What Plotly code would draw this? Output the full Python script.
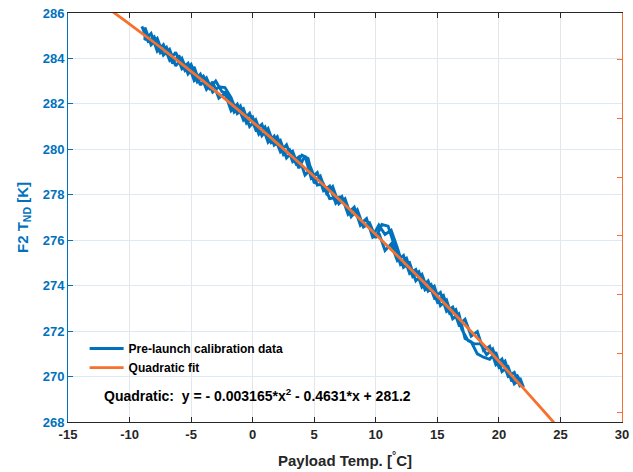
import plotly.graph_objects as go

# ---- data ----
pass_a_x = [-9.0, -8.5, -8.0, -7.5, -7.0, -6.5, -6.0, -5.5, -5.0, -4.5, -4.0, -3.5, -3.0, -2.5, -2.0, -1.5,
            -1.0, -0.5, 0.0, 0.5, 1.0, 1.5, 2.0, 2.5, 3.0, 3.5, 4.0, 4.5, 5.0, 5.5, 6.0, 6.5, 7.0, 7.5,
            8.0, 8.5, 9.0, 9.5, 10.0, 10.5, 11.0, 11.5, 12.0, 12.5, 13.0, 13.5, 14.0, 14.5, 15.0, 15.5,
            16.0, 16.5, 17.0, 17.5, 18.0, 18.5, 19.0, 19.5, 20.0, 20.5, 21.0, 21.5, 22.0]
pass_a_y = [285.41, 284.76, 284.95, 284.25, 284.49, 283.78, 284.14, 283.47, 283.74, 282.97, 283.22, 282.68,
            283.01, 282.54, 282.46, 281.64, 281.91, 281.15, 281.42, 280.67, 280.98, 280.30, 280.56, 279.77,
            279.98, 279.39, 279.75, 279.60, 278.51, 278.81, 278.06, 278.36, 277.60, 277.83, 277.04, 277.34,
            276.58, 276.76, 276.10, 276.69, 276.62, 275.76, 274.94, 275.20, 274.40, 274.62, 273.82, 274.04,
            273.29, 273.56, 272.78, 272.95, 272.06, 271.58, 271.44, 271.45, 270.96, 271.22, 270.42, 270.68,
            269.86, 270.03, 269.53]

pass_b_x = [21.75, 21.25, 20.75, 20.25, 19.75, 19.25, 18.75, 18.25, 17.75, 17.25, 16.75, 16.25, 15.75, 15.25,
            14.75, 14.25, 13.75, 13.25, 12.75, 12.25, 11.75, 11.25, 10.75, 10.25, 9.75, 9.25, 8.75, 8.25,
            7.75, 7.25, 6.75, 6.25, 5.75, 5.25, 4.75, 4.25, 3.75, 3.25, 2.75, 2.25, 1.75, 1.25, 0.75, 0.25,
            -0.25, -0.75, -1.25, -1.75, -2.25, -2.75, -3.25, -3.75, -4.25, -4.75, -5.25, -5.75, -6.25,
            -6.75, -7.25, -7.75, -8.25, -8.75]
pass_b_y = [269.88, 269.68, 270.43, 270.22, 271.07, 270.76, 270.85, 271.00, 271.53, 271.67, 272.76, 272.54,
            273.37, 273.12, 273.98, 273.76, 274.49, 274.21, 275.00, 274.80, 275.67, 276.44, 276.25, 276.67,
            276.18, 276.93, 276.66, 277.46, 277.20, 277.92, 277.63, 278.38, 278.18, 278.98, 278.73, 279.72,
            279.17, 279.91, 279.62, 280.39, 280.18, 280.91, 280.60, 281.30, 281.01, 281.79, 281.57, 282.28,
            282.72, 282.75, 282.52, 283.14, 282.83, 283.63, 283.32, 284.00, 283.67, 284.40, 284.14, 284.88,
            284.60, 285.36]

pass_c_x = [-8.75, -8.25, -7.75, -7.25, -6.75, -6.25, -5.75, -5.25, -4.75, -4.25, -3.75, -3.25, -2.75, -2.25,
            -1.75, -1.25, -0.75, -0.25, 0.25, 0.75, 1.25, 1.75, 2.25, 2.75, 3.25, 3.75, 4.25, 4.75, 5.25,
            5.75, 6.25, 6.75, 7.25, 7.75, 8.25, 8.75, 9.25, 9.75, 10.25, 10.75, 11.25, 11.75, 12.25, 12.75,
            13.25, 13.75, 14.25, 14.75, 15.25, 15.75, 16.25, 16.75, 17.25, 17.75, 18.25, 18.75, 19.25,
            19.75, 20.25, 20.75, 21.25, 21.75]
pass_c_y = [284.81, 285.10, 284.32, 284.61, 283.93, 284.27, 283.55, 283.79, 283.03, 283.31, 282.64, 282.97,
            282.25, 282.47, 281.70, 281.99, 281.29, 281.59, 280.86, 281.10, 280.31, 280.58, 279.89, 280.20,
            279.46, 279.67, 278.87, 279.15, 278.43, 278.48, 277.83, 277.88, 277.92, 277.14, 277.41, 276.71,
            276.95, 276.13, 276.32, 275.55, 275.84, 275.10, 275.33, 274.53, 274.71, 273.94, 274.21, 273.48,
            273.70, 272.87, 273.06, 272.28, 272.52, 271.78, 271.98, 271.15, 271.33, 270.52, 270.77, 270.01,
            270.18, 269.53]

# quadratic fit coefficients (as printed on the chart)
fit_a, fit_b, fit_c = -0.003165, -0.4631, 281.2
fit_x = [-12, -10, -8, -6, -4, -2, 0, 2, 4, 6, 8, 10, 12, 14, 16, 18, 20, 22, 24, 26]
fit_y = [fit_a * x * x + fit_b * x + fit_c for x in fit_x]

x_ticks = [-15, -10, -5, 0, 5, 10, 15, 20, 25, 30]
x_tick_text = ["-15", "-10", "-5", "0", "5", "10", "15", "20", "25", "30"]
y_ticks = [268, 270, 272, 274, 276, 278, 280, 282, 284, 286]
right_ticks = [0, 1, 2, 3, 4, 5, 6]

BLUE = "#0072BD"
ORANGE = "#F7702E"
DARK = "#262626"
FONT = "Liberation Sans, Arial, sans-serif"

data_x = pass_a_x + pass_b_x + pass_c_x
data_y = pass_a_y + pass_b_y + pass_c_y

fig = go.Figure()
fig.add_trace(go.Scatter(x=data_x, y=data_y, mode="lines", name="Pre-launch calibration data",
                         line=dict(color=BLUE, width=2.9)))
fig.add_trace(go.Scatter(x=fit_x, y=fit_y, mode="lines", name="Quadratic fit",
                         line=dict(color=ORANGE, width=2.8, shape="spline")))
fig.add_trace(go.Scatter(x=[None], y=[None], yaxis="y2", showlegend=False, hoverinfo="skip"))

fig.update_layout(
    width=633, height=472,
    margin=dict(l=68, r=11, t=13, b=50, autoexpand=False),
    paper_bgcolor="white", plot_bgcolor="white",
    font=dict(family=FONT, size=13, color=DARK, weight="bold"),
    showlegend=True,
    legend=dict(x=0.03, y=0.215, xanchor="left", yanchor="top", bgcolor="rgba(0,0,0,0)",
                font=dict(family=FONT, size=12, color="black", weight="bold"),
                tracegroupgap=0, itemwidth=34),
    xaxis=dict(range=[-15, 30], tickvals=x_ticks, ticktext=x_tick_text, ticks="inside", ticklen=5,
               tickcolor=DARK, automargin=False,
               showline=True, linecolor=DARK, linewidth=1, mirror="ticks",
               showgrid=True, gridcolor="#E3E6EA", gridwidth=1, zeroline=False,
               tickfont=dict(family=FONT, size=13, color=DARK, weight="bold"),
               title=dict(text="Payload Temp. [<sup>°</sup>C]", standoff=14,
                          font=dict(family=FONT, size=15, color=DARK, weight="bold"))),
    yaxis=dict(range=[268, 286], tickvals=y_ticks, ticks="inside", ticklen=5, tickcolor=BLUE,
               showline=True, linecolor=BLUE, linewidth=1, mirror=False, automargin=False,
               showgrid=True, gridcolor="#DDEAF5", gridwidth=1, zeroline=False,
               tickfont=dict(family=FONT, size=13, color=BLUE, weight="bold"),
               title=dict(text="F2 T<sub>ND</sub> [K]", standoff=10,
                          font=dict(family=FONT, size=15, color=BLUE, weight="bold"))),
    yaxis2=dict(overlaying="y", side="right", range=[-0.17, 6.8], tickvals=right_ticks,
                ticks="inside", ticklen=5, tickcolor=ORANGE, showticklabels=False, automargin=False,
                showline=True, linecolor=ORANGE, linewidth=1, showgrid=False, zeroline=False),
    annotations=[dict(xref="paper", yref="paper", x=0.062, y=0.066, xanchor="left", yanchor="middle",
                      showarrow=False,
                      text="Quadratic:  y = - 0.003165*x<sup>2</sup> - 0.4631*x + 281.2",
                      font=dict(family=FONT, size=14, color="black", weight="bold"))],
)

fig.write_html("out.html")
